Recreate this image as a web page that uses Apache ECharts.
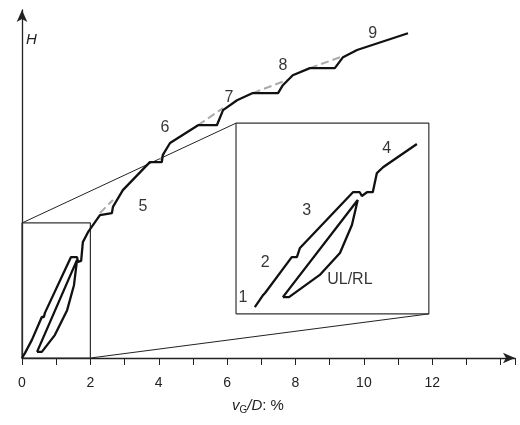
<!DOCTYPE html><html><head><meta charset="utf-8"><script src="https://cdn.jsdelivr.net/npm/echarts@6/dist/echarts.min.js"></script></head><body style="margin:0"><div id="c" style="width:520px;height:425px"></div><script>
const xTicks=[0,2,4,6,8,10,12];
const mainCurve=[[0,0],[0.09,0.15],[0.29,0.53],[0.58,1.2],[0.64,1.2],[0.67,1.32],[1.43,2.95],[1.61,2.95],[1.64,2.81],[1.73,2.84],[1.78,3.39],[1.93,3.68],[2.28,4.18],[2.63,4.24],[2.66,4.42],[2.95,4.91],[3.74,5.73],[4.09,5.73],[4.12,5.94],[4.33,6.29],[5.15,6.81],[5.7,6.81],[5.88,7.25],[6.29,7.54],[6.75,7.75],[7.49,7.75],[7.63,7.98],[7.92,8.27],[8.42,8.48],[9.15,8.48],[9.39,8.8],[9.8,9.01],[11.29,9.5]];
const mainLoop=[[0.44,0.18],[0.58,0.18],[0.96,0.67],[1.32,1.4],[1.52,2.13],[1.61,2.87],[0.44,0.18]];
const dashSegs=[[[2.28,4.24],[2.66,4.62]],[[4.04,5.79],[4.18,6.02]],[[5.15,6.81],[5.88,7.31]],[[6.75,7.75],[7.75,8.13]],[[8.42,8.48],[9.39,8.83]]];
const insetCurve=[[6.81,1.49],[7.05,1.84],[7.11,1.9],[7.89,2.95],[8.04,2.95],[8.13,3.22],[9.68,4.85],[9.88,4.85],[9.94,4.74],[10.09,4.85],[10.26,4.85],[10.38,5.41],[10.56,5.58],[11.55,6.26]];
const insetLoop=[[7.63,1.78],[7.81,1.78],[8.71,2.43],[9.3,3.07],[9.65,3.89],[9.82,4.62],[7.63,1.78]];
const smallBox=[[0,0],[2,0],[2,3.95],[0,3.95],[0,0]];
const insetBox=[[6.26,1.29],[11.9,1.29],[11.9,6.87],[6.26,6.87],[6.26,1.29]];
const connectors=[[[0,3.95],[6.26,6.87]],[[2,0],[11.9,1.29]]];
const labels=[['1',6.46,1.78],['2',7.11,2.78],['3',8.33,4.3],['4',10.67,6.14],['UL/RL',9.59,2.28],['5',3.54,4.42],['6',4.18,6.73],['7',6.05,7.63],['8',7.63,8.54],['9',10.26,9.5]];
const ln=(d,w,c,t)=>({type:'line',data:d,symbol:'none',silent:true,lineStyle:{width:w,color:c||'#111',type:t||'solid'},animation:false});
const series=[];
connectors.forEach(s=>series.push(ln(s,1,'#222')));
series.push(ln(smallBox,1.2,'#333'));
series.push(ln(insetBox,1.2,'#333'));
dashSegs.forEach(s=>series.push(ln(s,2,'#aaa','dashed')));
series.push(ln(mainCurve,2.3));
series.push(ln(mainLoop,2.3));
series.push(ln(insetCurve,2.3));
series.push(ln(insetLoop,2.3));
series.push({type:'scatter',symbolSize:0,silent:true,animation:false,data:labels.map(l=>({value:[l[1],l[2]],name:l[0]})),label:{show:true,position:'inside',formatter:p=>p.name,fontSize:16,color:'#000',fontFamily:'Liberation Sans'}});
const chart=echarts.init(document.getElementById('c'));
chart.setOption({animation:false,grid:{left:22,right:5,top:10,bottom:67,containLabel:false,outerBoundsMode:'none'},
graphic:[
{type:'text',left:26,top:32,style:{text:'H',font:'italic 15px Liberation Sans',fill:'#222'}},
{type:'text',left:232,top:398,style:{text:'{i|v}{s|G}{i|/D}: %',font:'15px Liberation Sans',fill:'#222',rich:{i:{fontStyle:'italic',fontSize:15,fontFamily:'Liberation Sans'},s:{fontSize:10,fontFamily:'Liberation Sans',padding:[10,0,0,0]}}}}
],
xAxis:{type:'value',min:0,max:14.42,interval:1,axisLine:{symbol:['none','arrow'],symbolSize:[8,12],lineStyle:{color:'#222',width:1.3}},axisTick:{length:7,lineStyle:{color:'#222'}},splitLine:{show:false},
axisLabel:{fontSize:14,color:'#222',fontFamily:'Liberation Sans',margin:18,formatter:v=>xTicks.includes(v)?String(v):''}},
yAxis:{type:'value',min:0,max:10.18,axisLine:{show:true,symbol:['none','arrow'],symbolSize:[8,12],lineStyle:{color:'#222',width:1.3}},axisTick:{show:false},axisLabel:{show:false},splitLine:{show:false}},
series});
</script></body></html>
